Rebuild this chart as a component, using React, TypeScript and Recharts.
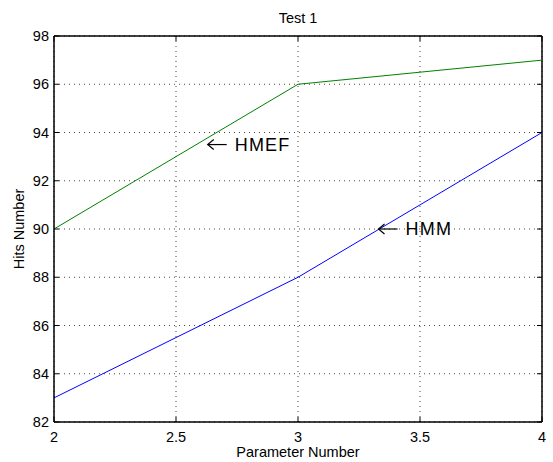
import {
  LineChart,
  Line,
  CartesianGrid,
  XAxis,
  YAxis,
  ReferenceLine,
  ReferenceDot,
} from "recharts";

const parameterNumbers = [2, 3, 4];
const hmefHits = [90, 96, 97];
const hmmHits = [83, 88, 94];

const xTicks = [2, 2.5, 3, 3.5, 4];
const yTicks = [82, 84, 86, 88, 90, 92, 94, 96, 98];

const chartData = parameterNumbers.map((p, i) => ({
  param: p,
  hmef: hmefHits[i],
  hmm: hmmHits[i],
}));

const FONT = "'Liberation Sans', Arial, sans-serif";

function BottomTick(props: any) {
  const { x, y, payload } = props;
  return (
    <g>
      <line x1={x} y1={y} x2={x} y2={y - 5} stroke="#000" />
      <line x1={x} y1={36} x2={x} y2={41} stroke="#000" />
      <text x={x} y={y + 20} textAnchor="middle" fontSize={14.5} fill="#000" fontFamily={FONT}>
        {payload.value}
      </text>
    </g>
  );
}

function LeftTick(props: any) {
  const { x, y, payload } = props;
  return (
    <g>
      <line x1={x} y1={y} x2={x + 5} y2={y} stroke="#000" />
      <line x1={542} y1={y} x2={537} y2={y} stroke="#000" />
      <text x={x - 5} y={y + 5} textAnchor="end" fontSize={14.5} fill="#000" fontFamily={FONT}>
        {payload.value}
      </text>
    </g>
  );
}

function ArrowLabel(text: string) {
  return (props: any) => {
    const { viewBox } = props;
    const cx = viewBox.x + viewBox.width / 2;
    const cy = viewBox.y + viewBox.height / 2;
    return (
      <g>
        <line x1={cx} y1={cy} x2={cx + 19} y2={cy} stroke="#000" strokeWidth={1.2} />
        <polyline
          points={`${cx + 6},${cy - 5} ${cx},${cy} ${cx + 6},${cy + 5}`}
          fill="none"
          stroke="#000"
          strokeWidth={1.2}
        />
        <text
          x={cx + 27}
          y={cy + 6}
          fontSize={18}
          letterSpacing={1.2}
          fill="#000"
          fontFamily={FONT}
        >
          {text}
        </text>
      </g>
    );
  };
}

function App() {
  return (
    <div style={{ position: "absolute", left: 0, top: 0, background: "#fff" }}>
      <div
        style={{
          position: "absolute",
          left: 54,
          top: 10,
          width: 488,
          textAlign: "center",
          fontFamily: FONT,
          fontSize: 14.5,
        }}
      >
        Test 1
      </div>
      <div
        style={{
          position: "absolute",
          left: 54,
          top: 444,
          width: 488,
          textAlign: "center",
          fontFamily: FONT,
          fontSize: 14.5,
        }}
      >
        Parameter Number
      </div>
      <div
        style={{
          position: "absolute",
          left: 19,
          top: 229,
          transform: "translate(-50%, -50%) rotate(-90deg)",
          whiteSpace: "nowrap",
          fontFamily: FONT,
          fontSize: 14.5,
        }}
      >
        Hits Number
      </div>
      <LineChart
        width={553}
        height={462}
        data={chartData}
        margin={{ top: 36, right: 11, bottom: 0, left: 0 }}
      >
        <CartesianGrid stroke="#444" strokeDasharray="1 4" />
        <XAxis
          dataKey="param"
          type="number"
          domain={[2, 4]}
          ticks={xTicks}
          height={40}
          tickSize={0}
          tickMargin={0}
          tickLine={false}
          axisLine={{ stroke: "#000", strokeWidth: 1.5 }}
          tick={BottomTick}
        />
        <YAxis
          type="number"
          domain={[82, 98]}
          ticks={yTicks}
          width={54}
          tickSize={0}
          tickMargin={0}
          tickLine={false}
          axisLine={{ stroke: "#000", strokeWidth: 1.5 }}
          tick={LeftTick}
        />
        <ReferenceLine y={98} stroke="#000" strokeWidth={1.5} />
        <ReferenceLine x={4} stroke="#000" strokeWidth={1.5} />
        <Line
          type="linear"
          dataKey="hmef"
          stroke="#008000"
          strokeWidth={1}
          dot={false}
          isAnimationActive={false}
        />
        <Line
          type="linear"
          dataKey="hmm"
          stroke="#0000ff"
          strokeWidth={1}
          dot={false}
          isAnimationActive={false}
        />
        <ReferenceDot
          x={2.63}
          y={93.5}
          r={0}
          fill="none"
          stroke="none"
          label={ArrowLabel("HMEF")}
        />
        <ReferenceDot
          x={3.33}
          y={90}
          r={0}
          fill="none"
          stroke="none"
          label={ArrowLabel("HMM")}
        />
      </LineChart>
    </div>
  );
}

export default App;
